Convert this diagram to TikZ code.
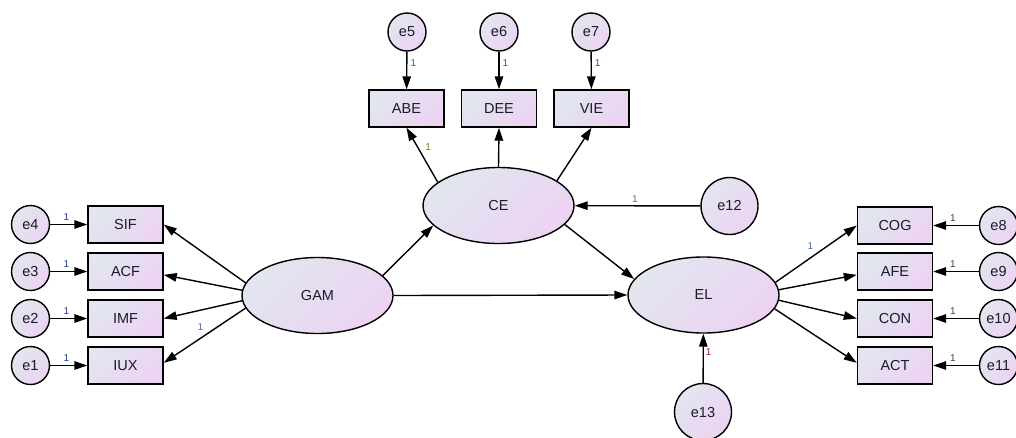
\documentclass[tikz,border=0pt]{standalone}
\usepackage{fontspec}
\setmainfont{Liberation Sans}
\usetikzlibrary{shapes.geometric,arrows.meta}
\definecolor{fillA}{HTML}{E2E6EF}
\definecolor{fillB}{HTML}{ECD3F2}
\definecolor{lblue}{HTML}{2A5CAA}
\definecolor{lnavy}{HTML}{1E3A8A}
\definecolor{lolive}{HTML}{8A6D1E}
\definecolor{lsteel}{HTML}{4A6FA5}
\definecolor{ldark}{HTML}{3A3A60}
\definecolor{lred}{HTML}{A02020}
\definecolor{txt}{HTML}{1A1A2A}
\tikzset{
  shadefill/.style={draw=black, line width=1.4pt, top color=fillA, bottom color=fillB, shading angle=45, text=txt},
  latent/.style={shadefill, ellipse, minimum width=151pt, minimum height=76pt, inner sep=0pt, font=\fontsize{14.5}{16}\selectfont},
  obs/.style={shadefill, rectangle, minimum width=75pt, minimum height=37pt, inner sep=0pt, font=\fontsize{14.5}{16}\selectfont},
  err/.style={shadefill, circle, minimum size=38pt, inner sep=0pt, font=\fontsize{14.5}{16}\selectfont},
  bigerr/.style={shadefill, circle, minimum size=57pt, inner sep=0pt, font=\fontsize{14.5}{16}\selectfont},
  path/.style={line width=1.4pt, -{Triangle[length=13pt,width=8.5pt]}},
  lab/.style={font=\fontsize{10}{11}\selectfont, inner sep=1pt},
}
\begin{document}
\begin{tikzpicture}[x=1pt,y=-1pt]
\useasboundingbox (0,0) rectangle (1016,437);
% latent variables
\node[latent] (GAM) at (317.5,295.5) {GAM};
\node[latent] (CE) at (498.5,205.5) {CE};
\node[latent] (EL) at (703.5,295) {EL};
% observed top
\node[obs] (ABE) at (406.5,108.5) {ABE};
\node[obs] (DEE) at (499,108.5) {DEE};
\node[obs] (VIE) at (591.5,108.5) {VIE};
% observed left
\node[obs] (SIF) at (125.5,224.5) {SIF};
\node[obs] (ACF) at (125.5,271.5) {ACF};
\node[obs] (IMF) at (125.5,318.5) {IMF};
\node[obs] (IUX) at (125.5,365.5) {IUX};
% observed right
\node[obs] (COG) at (895,225.5) {COG};
\node[obs] (AFE) at (895,271.5) {AFE};
\node[obs] (CON) at (895,318.5) {CON};
\node[obs] (ACT) at (895,365.5) {ACT};
% errors
\node[err] (e5) at (407,32) {e5};
\node[err] (e6) at (499,32) {e6};
\node[err] (e7) at (591,32) {e7};
\node[err] (e4) at (30.5,224.5) {e4};
\node[err] (e3) at (30.5,271.5) {e3};
\node[err] (e2) at (30.5,318.5) {e2};
\node[err] (e1) at (30.5,365.5) {e1};
\node[err] (e8) at (998.5,225.5) {e8};
\node[err] (e9) at (998.5,271.5) {e9};
\node[err] (e10) at (998.5,318.5) {e10};
\node[err] (e11) at (998.5,365.5) {e11};
\node[bigerr] (e12) at (729.5,206) {e12};
\node[bigerr] (e13) at (703,412) {e13};
% error paths top
\draw[path] (e5) -- node[lab, pos=0.3, right=2pt, text=lblue] {1} (ABE);
\draw[path] (e6) -- node[lab, pos=0.3, right=2pt, text=lblue] {1} (DEE);
\draw[path] (e7) -- node[lab, pos=0.3, right=2pt, text=lblue] {1} (VIE);
% error paths left
\draw[path] (e4) -- node[lab, pos=0.44, above=2pt, text=lnavy] {1} (SIF);
\draw[path] (e3) -- node[lab, pos=0.44, above=2pt, text=lnavy] {1} (ACF);
\draw[path] (e2) -- node[lab, pos=0.44, above=2pt, text=lnavy] {1} (IMF);
\draw[path] (e1) -- node[lab, pos=0.44, above=2pt, text=lnavy] {1} (IUX);
% error paths right
\draw[path] (e8) -- node[lab, pos=0.57, above=2pt, text=ldark] {1} (COG);
\draw[path] (e9) -- node[lab, pos=0.57, above=2pt, text=ldark] {1} (AFE);
\draw[path] (e10) -- node[lab, pos=0.57, above=2pt, text=ldark] {1} (CON);
\draw[path] (e11) -- node[lab, pos=0.57, above=2pt, text=ldark] {1} (ACT);
% disturbances
\draw[path] (e12) -- node[lab, pos=0.52, above=2pt, text=lolive] {1} (CE);
\draw[path] (e13) -- node[lab, pos=0.62, right=1pt, text=lred] {1} (EL);
% CE loadings
\draw[path] (CE.159) -- node[lab, pos=0.64, right=6pt, text=lolive] {1} (ABE.south);
\draw[path] (CE.north) -- (DEE.south);
\draw[path] (CE.23) -- (VIE.south);
% GAM loadings
\draw[path] (GAM.170) -- (SIF.east);
\draw[path] (GAM.176) -- (ACF.-5);
\draw[path] (GAM.184) -- (IMF.east);
\draw[path] (GAM.190) -- node[lab, pos=0.55, above=6pt, text=lsteel] {1} (IUX.4);
% EL loadings
\draw[path] (EL.10) -- node[lab, pos=0.43, above=7pt, text=lsteel] {1} (COG.west);
\draw[path] (EL.4) -- (AFE.185);
\draw[path] (EL.-4) -- (CON.west);
\draw[path] (EL.-11) -- (ACT.176);
% structural
\draw[path] (GAM.17) -- (CE.197);
\draw[path] (GAM.east) -- (EL.west);
\draw[path] (CE.-16) -- (EL.167);
\end{tikzpicture}
\end{document}
